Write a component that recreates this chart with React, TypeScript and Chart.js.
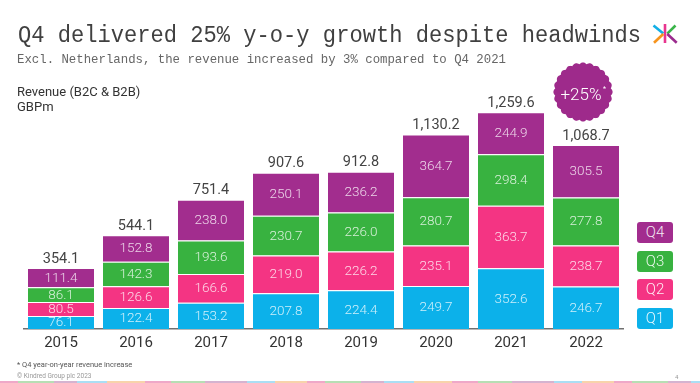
import React, { useEffect, useLayoutEffect, useRef } from 'react';
import { Chart, registerables } from 'chart.js';

Chart.register(...registerables);

// ---------- data ----------
const YEARS = ['2015', '2016', '2017', '2018', '2019', '2020', '2021', '2022'];
const Q1 = [76.1, 122.4, 153.2, 207.8, 224.4, 249.7, 352.6, 246.7];
const Q2 = [80.5, 126.6, 166.6, 219.0, 226.2, 235.1, 363.7, 238.7];
const Q3 = [86.1, 142.3, 193.6, 230.7, 226.0, 280.7, 298.4, 277.8];
const Q4 = [111.4, 152.8, 238.0, 250.1, 236.2, 364.7, 244.9, 305.5];
const TOTALS = [354.1, 544.1, 751.4, 907.6, 912.8, 1130.2, 1259.6, 1068.7];
const SERIES_NAMES = ['Q1', 'Q2', 'Q3', 'Q4'];
const SERIES_VALUES = [Q1, Q2, Q3, Q4];
const SERIES_COLORS = ['#0cb1ea', '#f43483', '#38b240', '#a22d8e'];
const Y_MAX = 1400;

const TITLE = 'Q4 delivered 25% y-o-y growth despite headwinds';
const SUBTITLE = 'Excl. Netherlands, the revenue increased by 3% compared to Q4 2021';
const AXIS_TITLE_1 = 'Revenue (B2C & B2B)';
const AXIS_TITLE_2 = 'GBPm';
const BADGE_TEXT = '+25%';
const FOOTNOTE = '* Q4 year-on-year revenue increase';
const COPYRIGHT = '\u00A9 Kindred Group plc 2023';
const PAGE_NO = '4';

const STRIP_COLORS = ['#e98bb5', '#9fd39b', '#c79ac0', '#8fd3f0', '#f6c48f'];

const fmtTotal = (n: number) =>
  n.toLocaleString('en-US', { minimumFractionDigits: 1, maximumFractionDigits: 1 });

const valueLabelPlugin = {
  id: 'valueLabels',
  afterDatasetsDraw(chart: any) {
    const { ctx } = chart;
    ctx.save();
    ctx.textAlign = 'center';
    ctx.textBaseline = 'middle';
    ctx.font = '300 13.5px Roboto';
    ctx.fillStyle = 'rgba(255,255,255,0.8)';
    chart.data.datasets.forEach((ds: any, di: number) => {
      const meta = chart.getDatasetMeta(di);
      meta.data.forEach((el: any, i: number) => {
        ctx.fillText(Number(ds.data[i]).toFixed(1), el.x, (el.y + el.base) / 2 + 0.5);
      });
    });
    const topMeta = chart.getDatasetMeta(chart.data.datasets.length - 1);
    ctx.font = '400 14.5px Roboto';
    ctx.fillStyle = '#444444';
    ctx.textBaseline = 'alphabetic';
    topMeta.data.forEach((el: any, i: number) => {
      ctx.fillText(fmtTotal(TOTALS[i]), el.x, el.y - 5.5);
    });
    ctx.restore();
  },
};

function FitText(props: { text: string; left: number; top: number; width: number; style: any }) {
  const ref = useRef<HTMLSpanElement>(null);
  useLayoutEffect(() => {
    const el = ref.current;
    if (!el) return;
    el.style.transform = 'none';
    const w = el.getBoundingClientRect().width;
    if (w > 0) el.style.transform = `scaleX(${props.width / w})`;
  }, [props.text, props.width]);
  return (
    <span
      ref={ref}
      style={{
        position: 'absolute',
        left: props.left,
        top: props.top,
        whiteSpace: 'nowrap',
        display: 'inline-block',
        transformOrigin: 'left top',
        lineHeight: 1,
        ...props.style,
      }}
    >
      {props.text}
    </span>
  );
}

function scallopPath(cx: number, cy: number, r0: number, amp: number, n: number) {
  const pts: string[] = [];
  const steps = 480;
  for (let k = 0; k <= steps; k++) {
    const t = (k / steps) * Math.PI * 2;
    const r = r0 + amp * Math.abs(Math.cos(n * t));
    pts.push(`${(cx + r * Math.cos(t)).toFixed(2)},${(cy + r * Math.sin(t)).toFixed(2)}`);
  }
  return 'M' + pts.join('L') + 'Z';
}

export default function App() {
  const canvasRef = useRef<HTMLCanvasElement>(null);

  useEffect(() => {
    const canvas = canvasRef.current;
    if (!canvas) return;
    Chart.defaults.font.family = 'Roboto';
    const chart = new Chart(canvas, {
      type: 'bar',
      data: {
        labels: YEARS,
        datasets: SERIES_NAMES.map((name, i) => ({
          label: name,
          data: SERIES_VALUES[i],
          backgroundColor: SERIES_COLORS[i],
          borderColor: '#ffffff',
          borderWidth: { top: 1, left: 0, right: 0, bottom: 0 },
          borderSkipped: false,
          barPercentage: 0.88,
          categoryPercentage: 1,
        })),
      },
      options: {
        responsive: false,
        devicePixelRatio: 1,
        animation: false,
        layout: { padding: { left: 23.5, right: 76.5, top: 88, bottom: 24 } },
        plugins: {
          legend: { display: false },
          tooltip: { enabled: false },
          title: { display: false },
        },
        scales: {
          x: {
            stacked: true,
            grid: { display: false, drawTicks: false },
            border: { display: true, color: '#707070', width: 1.5 },
            ticks: { color: '#333333', font: { size: 15, family: 'Roboto' }, padding: 5 },
            afterFit: (scale: any) => {
              scale.height = 30;
            },
          },
          y: {
            stacked: true,
            display: false,
            min: 0,
            max: Y_MAX,
          },
        },
      },
      plugins: [valueLabelPlugin],
    } as any);
    return () => chart.destroy();
  }, []);

  const legendItems = SERIES_NAMES.map((n, i) => ({ name: n, color: SERIES_COLORS[i] })).reverse();

  const strip: any[] = [];
  let x = 0;
  let ci = 0;
  const widths = [10, 28, 15, 22, 30, 18, 26, 34, 20, 24];
  while (x < 700) {
    const w = widths[ci % widths.length] + 8;
    strip.push(
      <div
        key={ci}
        style={{
          position: 'absolute',
          left: x,
          top: 381,
          width: w,
          height: 2,
          background: STRIP_COLORS[ci % STRIP_COLORS.length],
          opacity: 0.75,
        }}
      />
    );
    x += w;
    ci++;
  }

  return (
    <div
      style={{
        position: 'fixed',
        left: 0,
        top: 0,
        width: 700,
        height: 383,
        background: '#ffffff',
        overflow: 'hidden',
        fontFamily: 'Roboto, sans-serif',
      }}
    >
      <canvas
        ref={canvasRef}
        width={700}
        height={383}
        style={{ position: 'absolute', left: 0, top: 0, width: 700, height: 383 }}
      />
      <FitText
        text={TITLE}
        left={18}
        top={24.2}
        width={623}
        style={{ fontFamily: '"Liberation Mono", monospace', fontSize: 23.5, color: '#404040' }}
      />
      <FitText
        text={SUBTITLE}
        left={17}
        top={53}
        width={489}
        style={{ fontFamily: '"Liberation Mono", monospace', fontSize: 13.2, color: '#666666' }}
      />
      <div style={{ position: 'absolute', left: 17, top: 85, fontSize: 13, lineHeight: 1, color: '#333', whiteSpace: 'nowrap' }}>
        {AXIS_TITLE_1}
      </div>
      <div style={{ position: 'absolute', left: 17, top: 99.5, fontSize: 13, lineHeight: 1, color: '#333', whiteSpace: 'nowrap' }}>
        {AXIS_TITLE_2}
      </div>

      {/* logo */}
      <svg style={{ position: 'absolute', left: 648, top: 20 }} width={34} height={28} viewBox="648 20 34 28">
        <line x1={665} y1={24} x2={665} y2={43} stroke="#e8368f" strokeWidth={2.6} />
        <line x1={653.5} y1={25.5} x2={663.3} y2={33.6} stroke="#12afe6" strokeWidth={2.6} />
        <line x1={663.3} y1={34} x2={654} y2={42.7} stroke="#f7941d" strokeWidth={2.6} />
        <line x1={675.5} y1={25.5} x2={667.3} y2={33.6} stroke="#3ab54a" strokeWidth={2.6} />
        <line x1={667.3} y1={34} x2={676.7} y2={42.7} stroke="#9b2b8e" strokeWidth={2.6} />
      </svg>

      {/* badge */}
      <svg style={{ position: 'absolute', left: 548, top: 57 }} width={70} height={70} viewBox="548 57 70 70">
        <path d={scallopPath(583, 92, 28, 1.6, 12)} fill="#9e2a8b" />
        <text x={581} y={99.5} textAnchor="middle" fill="#ffffff" style={{ fontFamily: 'Roboto', fontWeight: 300, fontSize: 17 }}>
          {BADGE_TEXT}
        </text>
        <text x={604.5} y={91} textAnchor="middle" fill="#ffffff" style={{ fontFamily: 'Roboto', fontSize: 7 }}>
          *
        </text>
      </svg>

      {/* legend */}
      {legendItems.map((it, i) => (
        <div
          key={it.name}
          style={{
            position: 'absolute',
            left: 637,
            top: 222 + i * 28.5,
            width: 36,
            height: 21,
            background: it.color,
            borderRadius: 3,
            color: 'rgba(255,255,255,0.9)',
            fontSize: 15,
            fontWeight: 300,
            lineHeight: '21px',
            textAlign: 'center',
          }}
        >
          {it.name}
        </div>
      ))}

      <div style={{ position: 'absolute', left: 17, top: 360.5, fontSize: 7.5, lineHeight: 1, color: '#555', whiteSpace: 'nowrap' }}>
        {FOOTNOTE}
      </div>
      <div style={{ position: 'absolute', left: 17, top: 372.5, fontSize: 6.5, lineHeight: 1, color: '#999', whiteSpace: 'nowrap' }}>
        {COPYRIGHT}
      </div>
      <div style={{ position: 'absolute', left: 675, top: 374, fontSize: 6, lineHeight: 1, color: '#999' }}>{PAGE_NO}</div>
      {strip}
    </div>
  );
}
